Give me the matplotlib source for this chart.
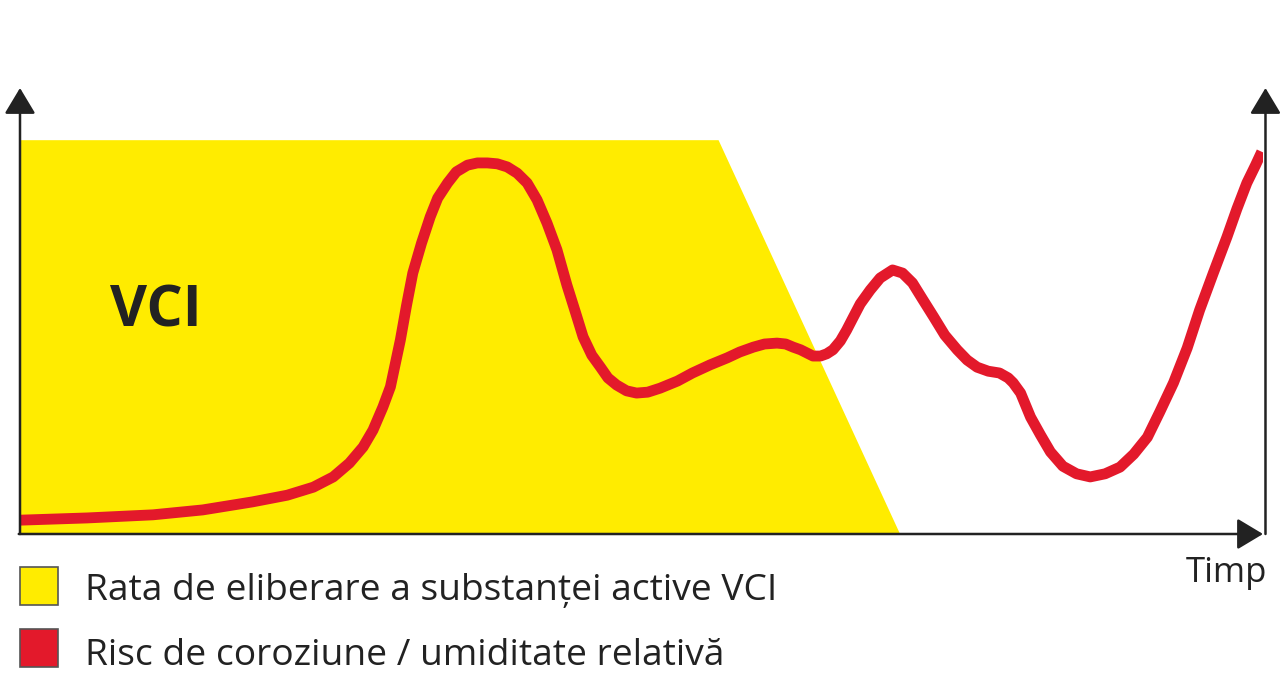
import matplotlib
matplotlib.use('Agg')
import matplotlib.pyplot as plt
from matplotlib.patches import Rectangle

plt.rcParams['font.family'] = ['Open Sans', 'DejaVu Sans']

# Datele graficului (timp 0-100, nivel 0-100)
vci_time = [0, 0, 56.2, 70.8]
vci_level = [0, 88.3, 88.3, 0]

risk_time = [0, 5.4, 10.7, 14.7, 18.7, 21.5, 23.6, 25.2, 26.5, 27.6, 28.4, 29.2,
             29.8, 30.6, 31.1, 31.6, 32.3, 33.0, 33.6, 34.4, 35.1, 36.0, 36.8,
             37.6, 38.4, 39.2, 40.0, 40.8, 41.6, 42.4, 43.2, 44.0, 44.7, 45.3,
             46.0, 46.7, 47.3, 48.0, 48.8, 49.6, 50.5, 51.5, 52.9, 54.1, 55.5,
             56.9, 57.9, 59.0, 59.9, 60.9, 61.6, 62.2, 62.8, 63.3, 63.8, 64.4,
             64.9, 65.4, 66.0, 66.5, 67.0, 67.6, 68.4, 69.2, 70.2, 71.0, 71.8,
             72.6, 73.5, 74.4, 75.4, 76.2, 77.0, 77.9, 78.8, 79.5, 79.9, 80.5,
             81.3, 82.1, 82.9, 83.9, 85.0, 86.1, 87.3, 88.5, 89.6, 90.7, 91.7,
             92.8, 93.9, 94.9, 96.0, 97.1, 97.9, 98.7, 99.4, 99.9]
risk_level = [3.1, 3.6, 4.3, 5.4, 7.2, 8.7, 10.5, 12.8, 15.9, 19.5, 23.3, 28.5,
              33.0, 43.5, 51.3, 58.5, 65.2, 71.1, 75.3, 78.7, 81.2, 82.7, 83.2,
              83.2, 83.0, 82.3, 80.9, 78.7, 74.9, 69.7, 63.7, 55.8, 49.6, 44.2,
              40.1, 37.4, 35.0, 33.4, 32.1, 31.6, 31.8, 32.7, 34.3, 36.1, 37.9,
              39.5, 40.8, 41.9, 42.6, 42.8, 42.6, 41.9, 41.3, 40.6, 39.9, 39.9,
              40.4, 41.3, 43.3, 45.7, 48.4, 51.6, 54.7, 57.4, 59.2, 58.5, 56.3,
              52.7, 48.7, 44.6, 41.3, 39.0, 37.4, 36.5, 36.1, 35.0, 33.9, 31.6,
              26.2, 22.2, 18.4, 15.2, 13.5, 12.8, 13.5, 15.0, 17.9, 21.7, 27.4,
              33.9, 41.7, 50.2, 58.5, 66.6, 72.9, 78.7, 82.7, 85.7]

legend_labels = ['Rata de eliberare a substanței active VCI',
                 'Risc de coroziune / umiditate relativă']

YELLOW = '#FFEC00'
RED = '#E3192B'
DARK = '#222222'

W, H = 1280, 700
fig = plt.figure(figsize=(12.8, 7), dpi=100)
ax = fig.add_axes([20 / W, (H - 534) / H, 1243 / W, 446 / H])
ax.set_xlim(0, 100)
ax.set_ylim(0, 100)
ax.axis('off')

# zona galbena VCI
ax.fill(vci_time, vci_level, color=YELLOW, lw=0, zorder=1)

# curba rosie
ax.plot(risk_time, risk_level, color=RED, lw=7.8, solid_capstyle='butt',
        solid_joinstyle='round', zorder=3)

ax.text(10.9, 49.8, 'VCI', fontsize=41, fontweight='bold', color=DARK,
        ha='center', va='center', zorder=4)

# axele cu sageti
arrow = dict(arrowstyle='-|>,head_length=0.4,head_width=0.24', mutation_scale=40,
             lw=1.8, color=DARK, shrinkA=0, shrinkB=0)
ax.annotate('', xy=(0, 100), xytext=(0, 0), arrowprops=arrow, annotation_clip=False, zorder=5)
ax.annotate('', xy=(100.2, 100), xytext=(100.2, 0), arrowprops=arrow, annotation_clip=False, zorder=5)
ax.annotate('', xy=(100, 0), xytext=(-0.1, 0), arrowprops=arrow, annotation_clip=False, zorder=5)

fig.text(1226 / W, 1 - 573 / H, 'Timp', fontsize=25, color=DARK, ha='center', va='center')

# legenda
colors = [YELLOW, RED]
box_y = [586, 648]
text_y = [591, 656]
for lab, col, by, ty in zip(legend_labels, colors, box_y, text_y):
    fig.patches.append(Rectangle((20 / W, 1 - (by + 19) / H), 38 / W, 38 / H,
                                 transform=fig.transFigure, facecolor=col,
                                 edgecolor='#555555', lw=1.2))
    fig.text(85 / W, 1 - ty / H, lab, fontsize=26.7, color=DARK,
             ha='left', va='center')

fig.savefig('out.png', dpi=100)
